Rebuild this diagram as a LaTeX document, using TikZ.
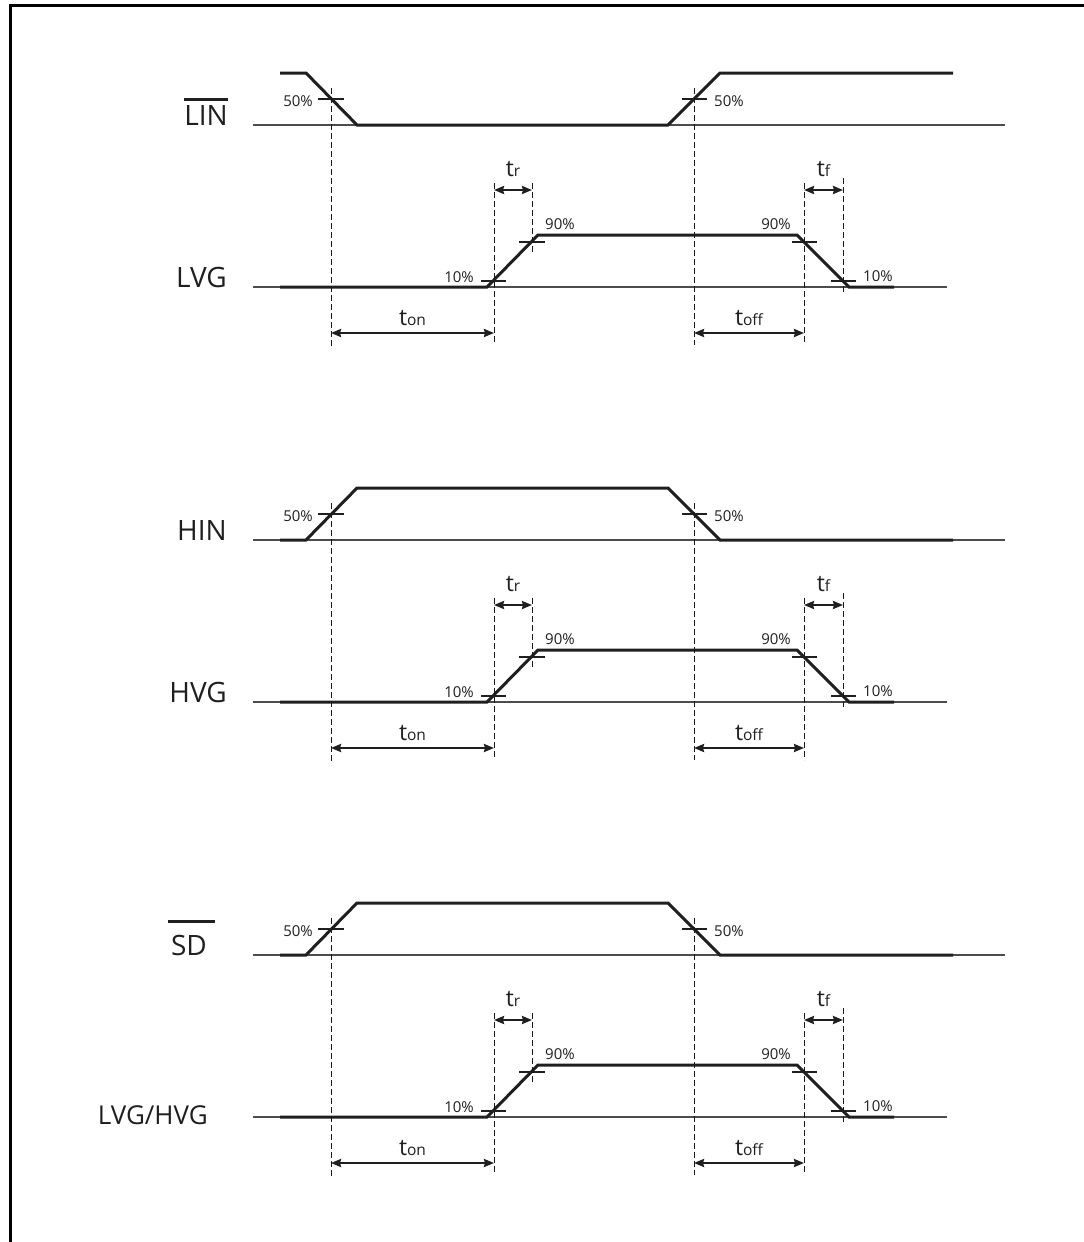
\documentclass[tikz,border=0pt]{standalone}
\usepackage{fontspec}
\setmainfont{Open Sans}
\usepackage{tikz}
\usetikzlibrary{arrows.meta}
\tikzset{
    border/.style={
        draw=black,
        line width=3pt
    },
    refline/.style={draw=black!70, line width=1.3pt},
    wave/.style={draw=black!88, line width=3pt},
    lvlmark/.style={draw=black!88, line width=2.5pt},
    guide/.style={draw=black!90, line width=1pt, dash pattern=on 6pt off 3pt},
    dimarrow/.style={
        draw=black!88,
        line width=2.5pt,
        {Stealth[length=10pt,width=8pt,inset=1pt]}-{Stealth[length=10pt,width=8pt,inset=1pt]}
    },
    signame/.style={font=\fontsize{28}{32}\selectfont, anchor=base east, inner sep=0pt, text=black!88},
    pct/.style={font=\fontsize{15}{17}\selectfont, inner sep=0pt, text=black!88},
    tname/.style={font=\fontsize{23}{25}\selectfont, inner sep=0pt, text=black!88}
}
\newcommand{\barred}[2]{\vbox{\hrule height 2.8pt\kern #1\hbox{#2}}}
\newcommand{\tsub}[1]{t{\fontsize{15.5}{17}\selectfont #1}}

\begin{document}
\begin{tikzpicture}[x=1pt, y=-1pt]
    \useasboundingbox (0,0) rectangle (1084,1242);

    % Frame
    \draw[border] (10,1242) -- (10,5) -- (1084,5);

    % Three timing panels, 415 apart
    \foreach \p/\o/\ya/\yb in {1/0/73/125, 2/415/125/73, 3/830/125/73} {
        \begin{scope}[shift={(0,\o)}]
            % Reference lines
            \draw[refline] (253,125) -- (1005,125);
            \draw[refline] (253,287) -- (947,287);

            % Input and gate output
            \draw[wave] (280,\ya) -- (306,\ya) -- (357,\yb) -- (668,\yb) -- (720,\ya) -- (953,\ya);
            \draw[wave] (280,287) -- (487,287) -- (538,235) -- (797,235) -- (849,287) -- (894,287);

            % Level marks
            \draw[lvlmark] (318,99) -- (344,99);
            \draw[lvlmark] (682,99) -- (707,99);
            \draw[lvlmark] (481,281) -- (506,281);
            \draw[lvlmark] (519,242) -- (545,242);
            \draw[lvlmark] (792,242) -- (817,242);
            \draw[lvlmark] (831,281) -- (856,281);

            \node[pct, anchor=base east] (in50a\p) at (313,106) {50\%};
            \node[pct, anchor=base west] (in50b\p) at (714,106) {50\%};
            \node[pct, anchor=base east] (out10a\p) at (474,282) {10\%};
            \node[pct, anchor=base west] (out90a\p) at (545,229) {90\%};
            \node[pct, anchor=base east] (out90b\p) at (791,229) {90\%};
            \node[pct, anchor=base west] (out10b\p) at (863,281) {10\%};

            % Guide lines
            \draw[guide] (331,88) -- (331,347);
            \draw[guide] (694,88) -- (694,345);
            \draw[guide] (494,183) -- (494,344);
            \draw[guide] (532,183) -- (532,253);
            \draw[guide] (804,183) -- (804,345);
            \draw[guide] (843,178) -- (843,293);

            % Delays and edges
            \coordinate (on-a\p) at (331,333);
            \coordinate (on-b\p) at (494,333);
            \coordinate (off-a\p) at (694,333);
            \coordinate (off-b\p) at (804,333);
            \coordinate (r-a\p) at (494,190);
            \coordinate (r-b\p) at (532,190);
            \coordinate (f-a\p) at (804,190);
            \coordinate (f-b\p) at (843,190);

            \draw[dimarrow] (on-a\p) -- node[tname, above=6pt] (ton\p) {\tsub{on}} (on-b\p);
            \draw[dimarrow] (off-a\p) -- node[tname, above=6pt] (toff\p) {\tsub{off}} (off-b\p);
            \draw[dimarrow] (r-a\p) -- node[tname, above=12pt] (tr\p) {\tsub{r}} (r-b\p);
            \draw[dimarrow] (f-a\p) -- node[tname, above=12pt] (tf\p) {\tsub{f}} (f-b\p);
        \end{scope}
    }

    % Signal names
    \node[signame] (lin) at (228,125) {\barred{4.5pt}{LIN}};
    \node[signame] (lvg) at (227,287) {LVG};
    \node[signame] (hin) at (227,540) {HIN};
    \node[signame] (hvg) at (227,702) {HVG};
    \node[signame] (sd) at (215,955) {\barred{11.5pt}{\kern3pt SD\kern8pt}};
    \node[signame, font=\fontsize{26}{30}\selectfont] (lvghvg) at (208,1124) {LVG/HVG};
\end{tikzpicture}
\end{document}
